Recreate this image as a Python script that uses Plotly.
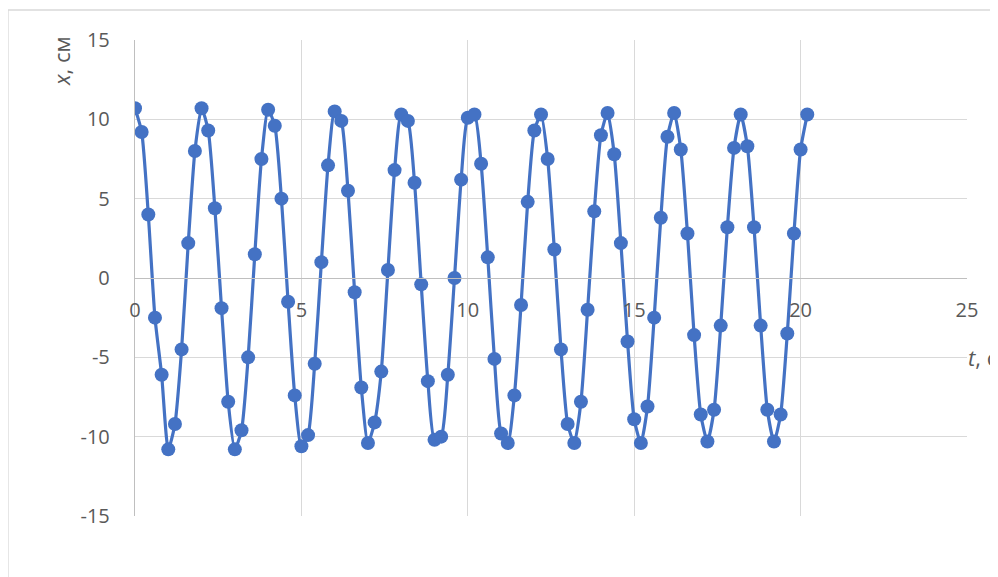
import plotly.graph_objects as go

# time, s (step 0.2)
t_values = [round(i * 0.2, 1) for i in range(102)]
# displacement, cm
x_values = [
    10.7, 9.2, 4.0, -2.5, -6.1, -10.8, -9.2, -4.5, 2.2, 8.0,
    10.7, 9.3, 4.4, -1.9, -7.8, -10.8, -9.6, -5.0, 1.5, 7.5,
    10.6, 9.6, 5.0, -1.5, -7.4, -10.6, -9.9, -5.4, 1.0, 7.1,
    10.5, 9.9, 5.5, -0.9, -6.9, -10.4, -9.1, -5.9, 0.5, 6.8,
    10.3, 9.9, 6.0, -0.4, -6.5, -10.2, -10.0, -6.1, 0.0, 6.2,
    10.1, 10.3, 7.2, 1.3, -5.1, -9.8, -10.4, -7.4, -1.7, 4.8,
    9.3, 10.3, 7.5, 1.8, -4.5, -9.2, -10.4, -7.8, -2.0, 4.2,
    9.0, 10.4, 7.8, 2.2, -4.0, -8.9, -10.4, -8.1, -2.5, 3.8,
    8.9, 10.4, 8.1, 2.8, -3.6, -8.6, -10.3, -8.3, -3.0, 3.2,
    8.2, 10.3, 8.3, 3.2, -3.0, -8.3, -10.3, -8.6, -3.5, 2.8,
    8.1, 10.3,
]
x_ticks = [0, 5, 10, 15, 20, 25]
y_ticks = [-15, -10, -5, 0, 5, 10, 15]
y_tick_text = ["-15", "-10", "-5", "0", "5", "10", "15"]

BLUE = "#4472C4"
GRID = "#D9D9D9"
AXIS = "#BFBFBF"
TXT = "#595959"
FONT = "Open Sans"
FS = 20
FT = 22

# the page body has an 8px margin, so the figure is offset by 8px
W, H = 990, 569
L, R, T, B = 127, 31, 32, 61
PW, PH = W - L - R, H - T - B


def px(xw):  # window x pixel -> paper
    return (xw - 8 - L) / PW


def py(yw):  # window y pixel -> paper
    return (H - B - (yw - 8)) / PH


fig = go.Figure()
fig.add_trace(go.Scatter(
    x=t_values, y=x_values, mode="lines+markers",
    line=dict(color=BLUE, width=3.2, shape="spline", smoothing=0.6),
    marker=dict(color=BLUE, size=14),
    showlegend=False,
))

fig.update_layout(
    width=W, height=H,
    margin=dict(l=L, r=R, t=T, b=B),
    paper_bgcolor="white", plot_bgcolor="white",
    font=dict(family=FONT, size=FS, color=TXT),
    xaxis=dict(
        range=[0, 25], tickvals=x_ticks, showgrid=True, gridcolor=GRID, gridwidth=1.4,
        zeroline=False, showline=True, linecolor=AXIS, linewidth=1.4,
        anchor="free", position=0.5,
        ticks="outside", ticklen=14, tickcolor="rgba(0,0,0,0)",
        tickfont=dict(family=FONT, size=FS, color=TXT),
    ),
    yaxis=dict(
        range=[-15, 15], tickvals=y_ticks, ticktext=y_tick_text,
        showgrid=True, gridcolor=GRID, gridwidth=1.4,
        zeroline=False, showline=True, linecolor=AXIS, linewidth=1.4,
        ticks="outside", ticklen=20, tickcolor="rgba(0,0,0,0)",
        tickfont=dict(family=FONT, size=FS, color=TXT),
    ),
    shapes=[
        dict(type="rect", xref="paper", yref="paper",
             x0=px(8), x1=1.2, y0=-0.3, y1=py(10),
             line=dict(color=GRID, width=1.3), layer="below"),
    ],
    annotations=[
        dict(text="<i>x</i>, см", xref="paper", yref="paper",
             x=px(61), y=py(61), textangle=-90,
             showarrow=False, xanchor="center", yanchor="middle",
             font=dict(family=FONT, size=FT, color=TXT)),
        dict(text="<i>t</i>, с", xref="paper", yref="paper",
             x=px(966), y=py(357), showarrow=False,
             xanchor="left", yanchor="middle",
             font=dict(family=FONT, size=FT, color=TXT)),
    ],
)

fig.write_html("out.html")
